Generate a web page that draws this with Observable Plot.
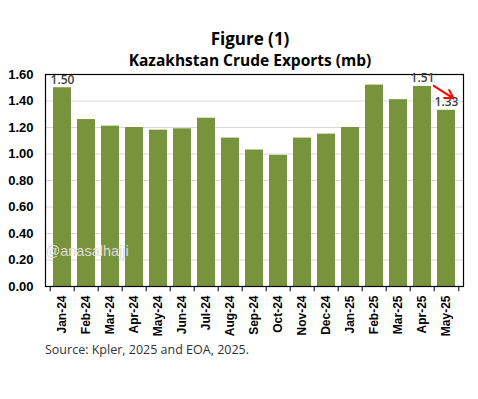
<!DOCTYPE html>
<html><head><meta charset="utf-8">
<script src="https://cdn.jsdelivr.net/npm/d3@7"></script>
<script src="https://cdn.jsdelivr.net/npm/@observablehq/plot@0.6"></script>
<style>
body{margin:0;background:#fff;}
#wrap{position:relative;width:478px;height:399px;overflow:hidden;}
.t{position:absolute;left:0;width:500px;text-align:center;font-family:"Open Sans",sans-serif;font-weight:700;color:#000;white-space:nowrap;}
#title{top:27px;font-size:17px;}
#sub{top:49px;font-size:15.5px;}
#cap{position:absolute;left:45px;top:341px;font-family:"Open Sans",sans-serif;font-size:12.5px;color:#333;white-space:nowrap;}
#chart{position:absolute;left:0;top:0;}
</style></head>
<body><div id="wrap">
<div id="chart"></div>
<div class="t" id="title">Figure (1)</div>
<div class="t" id="sub">Kazakhstan Crude Exports (mb)</div>
<div id="cap">Source: Kpler, 2025 and EOA, 2025.</div>
</div>
<script>
const months = ["Jan-24","Feb-24","Mar-24","Apr-24","May-24","Jun-24","Jul-24","Aug-24","Sep-24","Oct-24","Nov-24","Dec-24","Jan-25","Feb-25","Mar-25","Apr-25","May-25"];
const exportsMb = [1.50,1.26,1.21,1.20,1.18,1.19,1.27,1.12,1.03,0.99,1.12,1.15,1.20,1.52,1.41,1.51,1.33];
const labelMonths = ["Jan-24","Apr-25","May-25"];
const yTicks = [0,0.2,0.4,0.6,0.8,1.0,1.2,1.4,1.6];

const data = months.map((m,i)=>({month:m, value:exportsMb[i]}));
const labels = data.filter(d=>labelMonths.includes(d.month));
const bandW = (478-45-15)/months.length;

const chart = Plot.plot({
  width:478, height:399,
  marginLeft:45, marginRight:15, marginTop:74, marginBottom:113,
  style:{fontFamily:"Liberation Sans, Arial, sans-serif", background:"transparent"},
  x:{domain:months, padding:0.26, label:null},
  y:{domain:[0,1.6], label:null},
  marks:[
    Plot.gridY(yTicks,{stroke:"#d9d9d9", strokeOpacity:1}),
    Plot.barY(data,{x:"month", y:"value", fill:"#77933C"}),
    Plot.axisY(yTicks,{tickFormat:d=>d.toFixed(2), tickSize:0, tickPadding:12, fontSize:13, fontWeight:"bold", fill:"#000"}),
    Plot.axisX({tickSize:0, tickRotate:-90, tickPadding:9, fontSize:12, fontWeight:"bold", fill:"#000", textAnchor:"end"}),
    Plot.ruleX(months,{x:d=>d, y1:0, y2:-0.04, dx:-bandW/2, stroke:"#000"}),
    Plot.ruleX([months[months.length-1]],{x:d=>d, y1:0, y2:-0.04, dx:bandW/2, stroke:"#000"}),
    Plot.frame({stroke:"#000", strokeWidth:1.2}),
    Plot.text(labels,{x:"month", y:"value", text:d=>d.value.toFixed(2), dy:-8, fontSize:12, fontWeight:600, fill:"#404040", fontFamily:"Open Sans, sans-serif"}),
    Plot.arrow([{x1:"Apr-25",y1:1.535,x2:"May-25",y2:1.42}],{x1:"x1",y1:"y1",x2:"x2",y2:"y2", dx:7, stroke:"#ff0000", strokeWidth:2, headLength:7, insetStart:5, insetEnd:0}),
    Plot.text(["@anasalhajji"],{frameAnchor:"bottom-left", dx:0, dy:-31, textAnchor:"start", fontSize:14.5, fill:"#dcdcdc", fontFamily:"Liberation Sans, sans-serif"})
  ]
});
document.getElementById("chart").appendChild(chart);
</script>
</body></html>
